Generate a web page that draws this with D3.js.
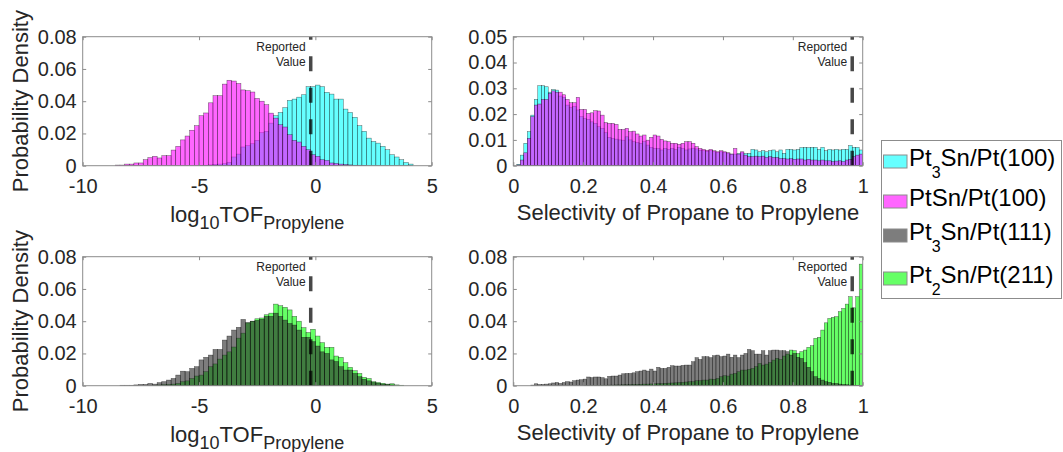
<!DOCTYPE html>
<html>
<head>
<meta charset="utf-8">
<script src="https://cdn.jsdelivr.net/npm/d3@7"></script>
<style>
  body { margin: 0; background: #fff; }
  svg { display: block; font-family: "Liberation Sans", Arial, sans-serif; }
</style>
</head>
<body>
<svg width="1063" height="452"></svg>
<script>
// ---- data (probability density per bin) ----
var tofBinWidth = 0.2;
var selBinWidth = 0.01;
var reportedTof = -0.2;
var reportedSel = 0.97;

var seriesNames = ['Pt3Sn/Pt(100)', 'PtSn/Pt(100)', 'Pt3Sn/Pt(111)', 'Pt2Sn/Pt(211)'];

var tofTicks = [-10, -5, 0, 5];
var selTicks = [0, 0.2, 0.4, 0.6, 0.8, 1];
var densTicks8 = [0, 0.02, 0.04, 0.06, 0.08];
var densTicks5 = [0, 0.01, 0.02, 0.03, 0.04, 0.05];

// log10 TOF, first bin edge then values
var tofStartPt3Sn100 = -5.0;
var tofPt3Sn100 = [0.0002, 0.0003, 0.0005, 0.0008, 0.001, 0.0012, 0.002, 0.0054, 0.0072, 0.0116,
  0.0124, 0.0136, 0.0157, 0.0205, 0.0213, 0.0264, 0.031, 0.033, 0.036, 0.0405,
  0.0413, 0.0425, 0.044, 0.049, 0.049, 0.050, 0.049, 0.0455, 0.0444, 0.0413,
  0.0413, 0.0351, 0.033, 0.030, 0.0248, 0.0213, 0.0171, 0.015, 0.014, 0.012,
  0.0099, 0.0068, 0.0054, 0.0037, 0.002, 0.001];

var tofStartPtSn100 = -8.6;
var tofPtSn100 = [0.0004, 0.0004, 0.001, 0.001, 0.0017, 0.0017, 0.0037, 0.005, 0.0058, 0.0048,
  0.0062, 0.0062, 0.0097, 0.012, 0.016, 0.0184, 0.022, 0.0248, 0.031, 0.0327,
  0.039, 0.0434, 0.0434, 0.0506, 0.053, 0.0525, 0.051, 0.047, 0.0465, 0.0457,
  0.0417, 0.040, 0.0378, 0.0326, 0.0295, 0.0254, 0.024, 0.0192, 0.0157, 0.0147,
  0.012, 0.0099, 0.0068, 0.0058, 0.0037, 0.0033, 0.0017, 0.0014, 0.001, 0.0008,
  0.0005, 0.0003, 0.0003, 0.0002];

var tofStartPt3Sn111 = -8.4;
var tofPt3Sn111 = [0.0003, 0.0003, 0.0003, 0.0005, 0.0008, 0.0008, 0.0014, 0.001, 0.0019, 0.0025,
  0.0035, 0.0045, 0.0066, 0.009, 0.0087, 0.0107, 0.0118, 0.016, 0.0176, 0.019,
  0.0225, 0.0225, 0.0283, 0.0308, 0.0345, 0.0362, 0.0411, 0.039, 0.040, 0.0405,
  0.0412, 0.043, 0.043, 0.045, 0.043, 0.0407, 0.0386, 0.0376, 0.0345, 0.030,
  0.030, 0.0273, 0.0246, 0.021, 0.020, 0.016, 0.015, 0.0118, 0.0097, 0.0097,
  0.0076, 0.0056, 0.004, 0.003, 0.002, 0.0015, 0.001, 0.0008, 0.0005];

var tofStartPt2Sn211 = -7.0;
var tofPt2Sn211 = [0.0003, 0.0005, 0.0007, 0.0008, 0.001, 0.0014, 0.0025, 0.003, 0.0045, 0.006,
  0.0066, 0.0087, 0.0118, 0.0135, 0.0165, 0.019, 0.021, 0.024, 0.0295, 0.0326,
  0.039, 0.040, 0.0415, 0.042, 0.044, 0.045, 0.0506, 0.0496, 0.0486, 0.047,
  0.043, 0.040, 0.036, 0.033, 0.035, 0.0308, 0.0267, 0.0238, 0.0238, 0.0184,
  0.0176, 0.0143, 0.0114, 0.0093, 0.0076, 0.0052, 0.0045, 0.0025, 0.002, 0.0015,
  0.001, 0.0012, 0.0005, 0.0003];

// selectivity, 100 bins from 0 to 1
var selPt3Sn100 = [0, 0.0005, 0.0041, 0.0087, 0.0132, 0.0196, 0.0257, 0.031, 0.031, 0.0306,
  0.0285, 0.0295, 0.0293, 0.027, 0.0265, 0.0235, 0.0225, 0.0229, 0.0216, 0.019,
  0.0183, 0.018, 0.017, 0.0164, 0.0151, 0.0145, 0.0128, 0.011, 0.0106, 0.0103,
  0.0100, 0.0099, 0.0112, 0.0100, 0.0093, 0.009, 0.0087, 0.0093, 0.008, 0.0071,
  0.0067, 0.0067, 0.0061, 0.0067, 0.0063, 0.0067, 0.0063, 0.0071, 0.0067, 0.0061,
  0.0065, 0.0068, 0.0065, 0.006, 0.0058, 0.0056, 0.0058, 0.0055, 0.0052, 0.0054,
  0.0052, 0.0049, 0.0045, 0.0045, 0.0047, 0.005, 0.0047, 0.0048, 0.0063, 0.0061,
  0.0054, 0.0058, 0.0054, 0.0058, 0.0061, 0.0054, 0.0061, 0.0048, 0.0063, 0.0063,
  0.0061, 0.0063, 0.007, 0.0071, 0.007, 0.0071, 0.0071, 0.0063, 0.0071, 0.0058,
  0.0063, 0.0061, 0.0063, 0.0061, 0.0063, 0.0063, 0.0078, 0.0071, 0.0071, 0.0061];

var selPtSn100 = [0, 0.0003, 0.0022, 0.005, 0.0106, 0.019, 0.0235, 0.0239, 0.0257, 0.0257,
  0.028, 0.029, 0.0285, 0.0285, 0.0275, 0.0257, 0.0244, 0.0244, 0.0265, 0.0218,
  0.0218, 0.0203, 0.0205, 0.0213, 0.0212, 0.0196, 0.0167, 0.0164, 0.0164, 0.016,
  0.0141, 0.014, 0.0145, 0.0132, 0.0134, 0.0123, 0.0115, 0.0119, 0.0099, 0.011,
  0.0119, 0.0115, 0.0102, 0.0096, 0.0093, 0.0087, 0.0087, 0.0083, 0.0087, 0.0093,
  0.0093, 0.0087, 0.0074, 0.0067, 0.0063, 0.006, 0.0063, 0.0058, 0.0054, 0.0058,
  0.0054, 0.005, 0.0045, 0.0067, 0.0045, 0.0054, 0.0041, 0.0035, 0.0035, 0.0037,
  0.0035, 0.0037, 0.0032, 0.0035, 0.0032, 0.0032, 0.0028, 0.0028, 0.0026, 0.0027,
  0.0025, 0.0026, 0.0026, 0.0022, 0.0025, 0.0022, 0.0022, 0.0019, 0.0022, 0.0019,
  0.0019, 0.0016, 0.0018, 0.0019, 0.0016, 0.0022, 0.0025, 0.0035, 0.0041, 0.0045];

var selPt3Sn111 = [0, 0, 0, 0, 0, 0.0004, 0.0012, 0.0008, 0.0008, 0.001,
  0.0012, 0.0017, 0.002, 0.0014, 0.002, 0.0025, 0.0023, 0.0031, 0.0035, 0.0037,
  0.0041, 0.0054, 0.005, 0.0054, 0.0054, 0.005, 0.0043, 0.0058, 0.006, 0.006,
  0.0066, 0.0074, 0.0076, 0.0076, 0.008, 0.0087, 0.0091, 0.0097, 0.0091, 0.0103,
  0.0091, 0.0114, 0.0107, 0.0107, 0.0114, 0.0124, 0.0122, 0.0122, 0.0126, 0.0128,
  0.0128, 0.0149, 0.0174, 0.0163, 0.018, 0.018, 0.0174, 0.0186, 0.019, 0.018,
  0.0184, 0.0196, 0.0176, 0.019, 0.0174, 0.019, 0.02, 0.0225, 0.0217, 0.0196,
  0.0196, 0.0217, 0.019, 0.0217, 0.0221, 0.0221, 0.0217, 0.0217, 0.0211, 0.019,
  0.02, 0.0176, 0.0169, 0.0143, 0.0114, 0.0087, 0.0056, 0.0045, 0.0035, 0.0025,
  0.0021, 0.0014, 0.0014, 0.001, 0.0008, 0.0006, 0.0004, 0.0002, 0.0002, 0.0002];

var selPt2Sn211 = [0, 0, 0, 0, 0, 0, 0, 0, 0, 0,
  0, 0, 0, 0, 0, 0, 0, 0, 0, 0,
  0.0001, 0.0001, 0.0002, 0.0002, 0.0002, 0.0003, 0.0003, 0.0004, 0.0004, 0.0005,
  0.0005, 0.0006, 0.0006, 0.0007, 0.0008, 0.0008, 0.0009, 0.001, 0.001, 0.0011,
  0.0012, 0.0013, 0.0013, 0.0015, 0.0016, 0.0017, 0.0018, 0.002, 0.0021, 0.0023,
  0.0025, 0.0025, 0.0031, 0.0031, 0.0035, 0.0035, 0.0041, 0.004, 0.0045, 0.0056,
  0.0062, 0.006, 0.0072, 0.0076, 0.0087, 0.0097, 0.0097, 0.0101, 0.0107, 0.0118,
  0.0138, 0.0128, 0.0134, 0.0143, 0.0159, 0.017, 0.0163, 0.0184, 0.0196, 0.0221,
  0.0217, 0.02, 0.0211, 0.0221, 0.0238, 0.0248, 0.0293, 0.03, 0.0345, 0.039,
  0.0417, 0.0424, 0.0428, 0.0459, 0.0479, 0.0506, 0.0552, 0.0483, 0.0552, 0.0754];

// ---- styles ----
var styles = {
  'Pt3Sn/Pt(100)': { fill: '#00ffff', opacity: 0.6 },
  'PtSn/Pt(100)':  { fill: '#ff00ff', opacity: 0.6 },
  'Pt3Sn/Pt(111)': { fill: '#262626', opacity: 0.6 },
  'Pt2Sn/Pt(211)': { fill: '#00ff00', opacity: 0.6 }
};
var textColor = '#262626';

var svg = d3.select('svg');

var left1 = 82.7, right1 = 431.7, left2 = 513.3, right2 = 862.7;
var topRow = 36.7, botRow = 256.7, plotH = 129;

var panels = [
  { x0: left1, x1: right1, y0: topRow, xDom: [-10, 5], yDom: [0, 0.08], xt: tofTicks, yt: densTicks8,
    bw: tofBinWidth, rep: reportedTof, ylabel: true, xlabel: 'tof',
    series: [['Pt3Sn/Pt(100)', tofStartPt3Sn100, tofPt3Sn100], ['PtSn/Pt(100)', tofStartPtSn100, tofPtSn100]] },
  { x0: left2, x1: right2, y0: topRow, xDom: [0, 1], yDom: [0, 0.05], xt: selTicks, yt: densTicks5,
    bw: selBinWidth, rep: reportedSel, ylabel: false, xlabel: 'sel',
    series: [['Pt3Sn/Pt(100)', 0, selPt3Sn100], ['PtSn/Pt(100)', 0, selPtSn100]] },
  { x0: left1, x1: right1, y0: botRow, xDom: [-10, 5], yDom: [0, 0.08], xt: tofTicks, yt: densTicks8,
    bw: tofBinWidth, rep: reportedTof, ylabel: true, xlabel: 'tof',
    series: [['Pt2Sn/Pt(211)', tofStartPt2Sn211, tofPt2Sn211], ['Pt3Sn/Pt(111)', tofStartPt3Sn111, tofPt3Sn111]] },
  { x0: left2, x1: right2, y0: botRow, xDom: [0, 1], yDom: [0, 0.08], xt: selTicks, yt: densTicks8,
    bw: selBinWidth, rep: reportedSel, ylabel: false, xlabel: 'sel',
    series: [['Pt2Sn/Pt(211)', 0, selPt2Sn211], ['Pt3Sn/Pt(111)', 0, selPt3Sn111]] }
];

panels.forEach(function(p) {
  var x = d3.scaleLinear().domain(p.xDom).range([p.x0, p.x1]);
  var y = d3.scaleLinear().domain(p.yDom).range([p.y0 + plotH, p.y0]);
  var g = svg.append('g');

  p.series.forEach(function(s) {
    var st = styles[s[0]];
    var bins = s[2].map(function(v, i) { return { a: s[1] + i * p.bw, v: v }; })
                   .filter(function(d) { return d.v > 0; });
    g.append('g').selectAll('rect')
      .data(bins)
      .enter()
      .append('rect')
        .attr('x', function(d) { return x(d.a); })
        .attr('width', function(d) { return x(d.a + p.bw) - x(d.a); })
        .attr('y', function(d) { return y(d.v); })
        .attr('height', function(d) { return y(0) - y(d.v); })
        .attr('fill', st.fill)
        .attr('fill-opacity', st.opacity)
        .attr('stroke', '#000')
        .attr('stroke-opacity', 0.6)
        .attr('stroke-width', 0.5);
  });

  // reported value line
  g.append('line')
    .attr('x1', x(p.rep)).attr('x2', x(p.rep))
    .attr('y1', y(0)).attr('y2', p.y0)
    .attr('stroke', '#000').attr('stroke-opacity', 0.72)
    .attr('stroke-width', 3.5)
    .attr('stroke-dasharray', '15,16.5');
  var rt = g.append('text')
    .attr('text-anchor', 'end')
    .attr('font-size', 12)
    .attr('fill', textColor);
  rt.append('tspan').attr('x', x(p.rep) - 5).attr('y', p.y0 + 14).text('Reported');
  rt.append('tspan').attr('x', x(p.rep) - 5).attr('y', p.y0 + 29).text('Value');

  // box
  g.append('rect')
    .attr('x', p.x0).attr('y', p.y0)
    .attr('width', p.x1 - p.x0).attr('height', plotH)
    .attr('fill', 'none').attr('stroke', '#8c8c8c').attr('stroke-width', 1);

  var fmt = function(d) { return String(d); };
  var ax = [
    [d3.axisBottom(x).tickValues(p.xt).tickFormat(fmt).tickPadding(13), 'translate(0,' + (p.y0 + plotH) + ')'],
    [d3.axisTop(x).tickValues(p.xt).tickFormat(''), 'translate(0,' + p.y0 + ')'],
    [d3.axisLeft(y).tickValues(p.yt).tickFormat(fmt).tickPadding(6), 'translate(' + p.x0 + ',0)'],
    [d3.axisRight(y).tickValues(p.yt).tickFormat(''), 'translate(' + p.x1 + ',0)']
  ];
  ax.forEach(function(a) {
    var ag = g.append('g')
      .attr('transform', a[1])
      .call(a[0].tickSizeInner(-3.5).tickSizeOuter(0));
    ag.select('.domain').remove();
    ag.selectAll('line').attr('stroke', '#8c8c8c');
    ag.selectAll('text')
      .attr('font-size', 20)
      .attr('font-family', '"Liberation Sans", Arial, sans-serif')
      .attr('fill', textColor);
  });

  var cx = (p.x0 + p.x1) / 2;
  if (p.xlabel === 'tof') {
    var t = g.append('text')
      .attr('x', cx).attr('y', p.y0 + plotH + 56)
      .attr('text-anchor', 'middle')
      .attr('font-size', 22)
      .attr('fill', textColor);
    t.append('tspan').text('log');
    t.append('tspan').attr('font-size', 18).attr('dy', 7).text('10');
    t.append('tspan').attr('dy', -7).text('TOF');
    t.append('tspan').attr('font-size', 18).attr('dy', 7).text('Propylene');
  } else {
    g.append('text')
      .attr('x', cx).attr('y', p.y0 + plotH + 54)
      .attr('text-anchor', 'middle')
      .attr('font-size', 22)
      .attr('fill', textColor)
      .text('Selectivity of Propane to Propylene');
  }
  if (p.ylabel) {
    g.append('text')
      .attr('transform', 'translate(28,' + (p.y0 + plotH / 2) + ') rotate(-90)')
      .attr('text-anchor', 'middle')
      .attr('font-size', 22)
      .attr('fill', textColor)
      .text('Probability Density');
  }
});

// ---- legend ----
var lg = svg.append('g');
lg.append('rect')
  .attr('x', 881.5).attr('y', 140.5).attr('width', 180).attr('height', 158)
  .attr('fill', '#fff').attr('stroke', '#8c8c8c').attr('stroke-width', 1);

var legendBase = [166, 206, 240, 283];
seriesNames.forEach(function(name, i) {
  var st = styles[name];
  var by = legendBase[i];
  lg.append('rect')
    .attr('x', 883.5).attr('y', by - 11).attr('width', 23.5).attr('height', 13)
    .attr('fill', st.fill).attr('fill-opacity', st.opacity)
    .attr('stroke', '#8c8c8c').attr('stroke-width', 1);
  var m = name.match(/^Pt(\d?)(.*)$/);
  var t = lg.append('text')
    .attr('x', 909).attr('y', by)
    .attr('font-size', 24)
    .attr('fill', '#000');
  if (m[1]) {
    t.append('tspan').text('Pt');
    t.append('tspan').attr('font-size', 16).attr('dy', 12).text(m[1]);
    t.append('tspan').attr('dy', -12).text(m[2]);
  } else {
    t.text(name);
  }
});
</script>
</body>
</html>
